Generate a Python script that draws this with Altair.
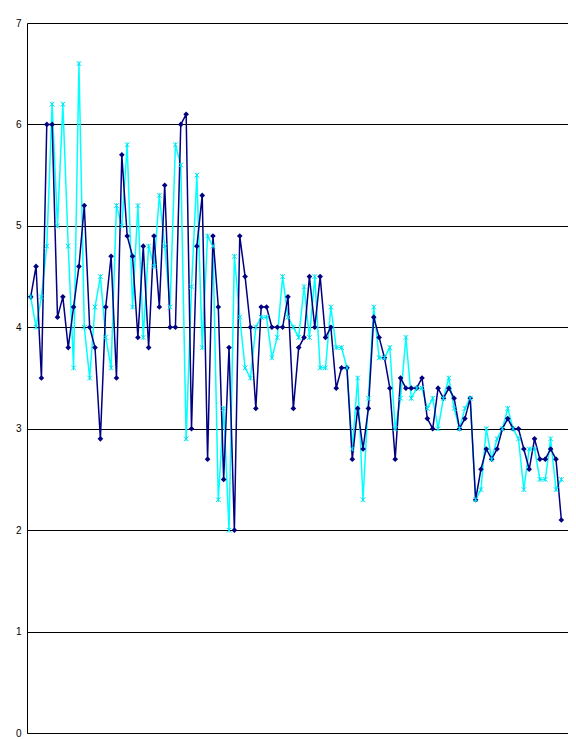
import altair as alt
import pandas as pd

# Series values (100 categories)
dark_values = [
    4.3, 4.6, 3.5, 6.0, 6.0, 4.1, 4.3, 3.8, 4.2, 4.6,
    5.2, 4.0, 3.8, 2.9, 4.2, 4.7, 3.5, 5.7, 4.9, 4.7,
    3.9, 4.8, 3.8, 4.9, 4.2, 5.4, 4.0, 4.0, 6.0, 6.1,
    3.0, 4.8, 5.3, 2.7, 4.9, 4.2, 2.5, 3.8, 2.0, 4.9,
    4.5, 4.0, 3.2, 4.2, 4.2, 4.0, 4.0, 4.0, 4.3, 3.2,
    3.8, 3.9, 4.5, 4.0, 4.5, 3.9, 4.0, 3.4, 3.6, 3.6,
    2.7, 3.2, 2.8, 3.2, 4.1, 3.9, 3.7, 3.4, 2.7, 3.5,
    3.4, 3.4, 3.4, 3.5, 3.1, 3.0, 3.4, 3.3, 3.4, 3.3,
    3.0, 3.1, 3.3, 2.3, 2.6, 2.8, 2.7, 2.8, 3.0, 3.1,
    3.0, 3.0, 2.8, 2.6, 2.9, 2.7, 2.7, 2.8, 2.7, 2.1,
]
cyan_values = [
    4.3, 4.0, 4.3, 4.8, 6.2, 5.0, 6.2, 4.8, 3.6, 6.6,
    4.0, 3.5, 4.2, 4.5, 3.9, 3.6, 5.2, 5.0, 5.8, 4.2,
    5.2, 3.9, 4.8, 4.6, 5.3, 4.8, 4.2, 5.8, 5.6, 2.9,
    4.4, 5.5, 3.8, 4.9, 4.8, 2.3, 3.2, 2.0, 4.7, 4.1,
    3.6, 3.5, 4.0, 4.1, 4.1, 3.7, 3.9, 4.5, 4.1, 4.0,
    3.9, 4.4, 3.9, 4.5, 3.6, 3.6, 4.2, 3.8, 3.8, 3.6,
    2.8, 3.5, 2.3, 3.3, 4.2, 3.7, 3.7, 3.8, 3.0, 3.3,
    3.9, 3.3, 3.4, 3.4, 3.2, 3.3, 3.0, 3.3, 3.5, 3.2,
    3.0, 3.2, 3.3, 2.3, 2.4, 3.0, 2.7, 2.9, 3.0, 3.2,
    3.0, 2.9, 2.4, 2.8, 2.8, 2.5, 2.5, 2.9, 2.4, 2.5,
]
categories = list(range(1, len(dark_values) + 1))
y_ticks = [0, 1, 2, 3, 4, 5, 6, 7]

df = pd.DataFrame({"idx": categories, "dark": dark_values, "cyan": cyan_values})

x_enc = alt.X("idx:Q", scale=alt.Scale(domain=[0.31, 101.24], nice=False, zero=False),
              axis=alt.Axis(labels=False, ticks=False, grid=False, domain=True,
                            domainColor="black", domainWidth=1, title=None))
y_scale = alt.Scale(domain=[0, 7], nice=False, zero=True)
y_axis = alt.Axis(values=y_ticks, grid=True, gridColor="black", gridOpacity=1, gridWidth=1,
                  ticks=False, domain=True, domainColor="black", domainWidth=1,
                  labelFont="Liberation Sans", labelFontSize=10, labelColor="black",
                  labelPadding=6, title=None, format="d")

base = alt.Chart(df)

dark_line = base.mark_line(color="#000080", strokeWidth=1.5, clip=True).encode(
    x=x_enc, y=alt.Y("dark:Q", scale=y_scale, axis=y_axis))
cyan_line = base.mark_line(color="#00FFFF", strokeWidth=1.5, clip=True).encode(
    x=x_enc, y=alt.Y("cyan:Q", scale=y_scale, axis=y_axis))
dark_pts = base.mark_point(shape="diamond", filled=True, color="#000080", size=32, opacity=1).encode(
    x=x_enc, y=alt.Y("dark:Q", scale=y_scale, axis=y_axis))
cyan_pts = base.mark_point(shape="M-1,-1L1,1M1,-1L-1,1M0,-1L0,1", filled=False,
                           color="#00E5F0", size=22, strokeWidth=1, opacity=1).encode(
    x=x_enc, y=alt.Y("cyan:Q", scale=y_scale, axis=y_axis))

chart = alt.layer(cyan_line, dark_line, dark_pts, cyan_pts).properties(
    width=541, height=710,
    autosize=alt.AutoSizeParams(type="none"),
    padding={"left": 19, "top": 15, "right": 0, "bottom": 7},
    background="white",
).configure_view(stroke=None)

chart.save("out.html", embed_options={"renderer": "svg", "actions": False})
